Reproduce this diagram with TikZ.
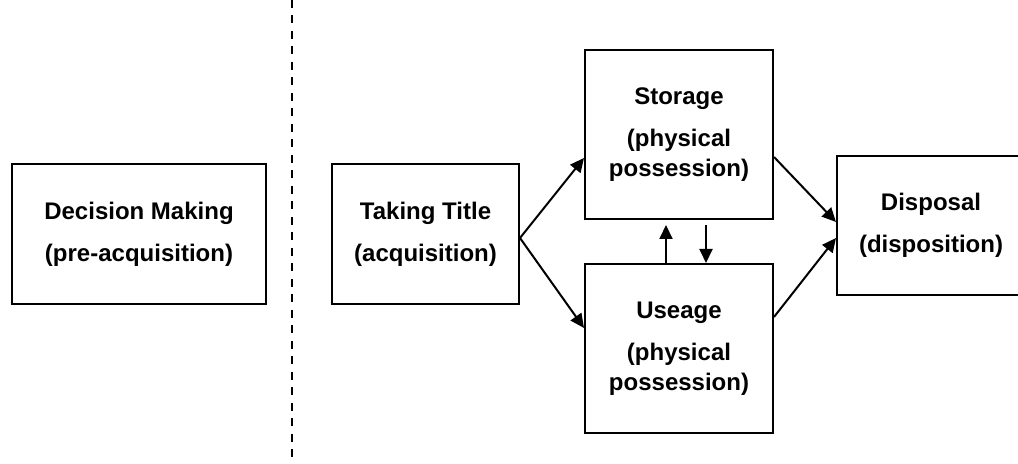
\documentclass[tikz,border=0pt]{standalone}
\usepackage{fontspec}
\setmainfont{Liberation Sans}
\usetikzlibrary{arrows.meta}

\begin{document}
\begin{tikzpicture}[x=0.5pt, y=-0.5pt,
  box/.style={draw, line width=1pt, rectangle, align=center, inner sep=0pt,
    font=\bfseries\fontsize{12}{15}\selectfont},
  flow/.style={line width=1pt, -{Triangle[length=7pt, width=6.5pt]}}]
\useasboundingbox (0, 0) rectangle (1018, 464);

\node[box, minimum width=127pt, minimum height=70pt] (decide) at (139, 234) {Decision Making\\[6pt](pre-acquisition)};
\node[box, minimum width=93.5pt, minimum height=70pt] (take) at (425.5, 234) {Taking Title\\[6pt](acquisition)};
\node[box, minimum width=94pt, minimum height=84.5pt] (stor) at (679, 134.5) {Storage\\[6pt](physical\\possession)};
\node[box, minimum width=94pt, minimum height=84.5pt] (use) at (679, 348.5) {Useage\\[6pt](physical\\possession)};
\node[box, minimum width=94pt, minimum height=69.5pt] (disp) at (931, 225.5) {Disposal\\[6pt](disposition)};

% before / after acquisition
\coordinate (cuttop) at (292, 0);
\coordinate (cutbot) at (292, 464);
\draw[line width=1pt, dash pattern=on 4pt off 3.75pt] (cuttop) -- (cutbot);

\draw[flow] ([yshift=-2pt]take.east) -- ([yshift=-11.75pt]stor.west);
\draw[flow] ([yshift=-2pt]take.east) -- ([yshift=10.25pt]use.west);
\draw[flow, shorten >=2.5pt] ([xshift=-6.5pt]use.north) -- ([xshift=-6.5pt]stor.south);
\draw[flow, shorten <=2.5pt] ([xshift=13.5pt]stor.south) -- ([xshift=13.5pt]use.north);
\draw[flow] ([yshift=-11.25pt]stor.east) -- ([yshift=1.75pt]disp.west);
\draw[flow] ([yshift=15.75pt]use.east) -- ([yshift=-6.25pt]disp.west);
\end{tikzpicture}
\end{document}
